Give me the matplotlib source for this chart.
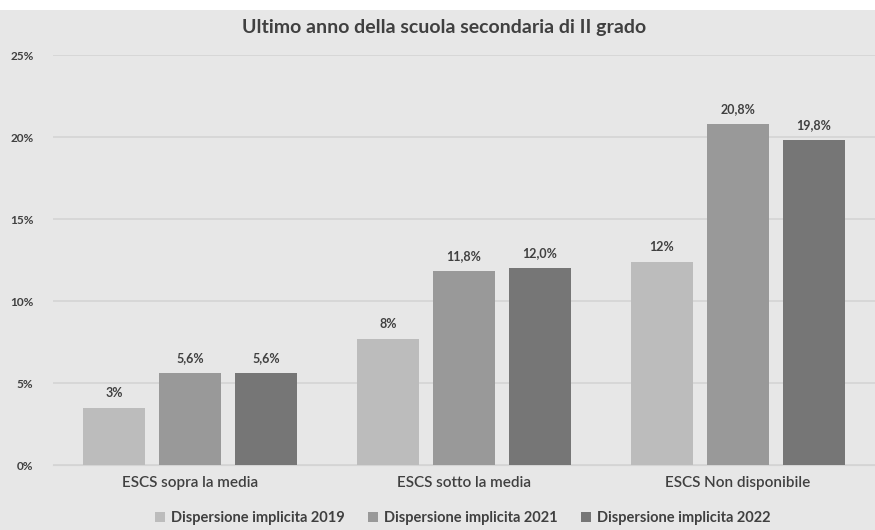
import numpy as np
import matplotlib.pyplot as plt

categories = ["ESCS sopra la media", "ESCS sotto la media", "ESCS Non disponibile"]
series_names = ["Dispersione implicita 2019", "Dispersione implicita 2021", "Dispersione implicita 2022"]
v2019 = [3.5, 7.7, 12.4]
v2021 = [5.6, 11.8, 20.8]
v2022 = [5.6, 12.0, 19.8]
labels2019 = ["3%", "8%", "12%"]
labels2021 = ["5,6%", "11,8%", "20,8%"]
labels2022 = ["5,6%", "12,0%", "19,8%"]
yticks = [0, 5, 10, 15, 20, 25]

colors = ["#bcbcbc", "#999999", "#767676"]
text_col = "#404040"
bg = "#e7e7e7"

plt.rcParams['font.family'] = ['Lato', 'DejaVu Sans']

fig = plt.figure(figsize=(8.75, 5.3), dpi=100)
fig.patch.set_facecolor("white")
# grey chart area below thin white strip
fig.add_artist(plt.Rectangle((0, 0), 1, 1 - 10 / 530, transform=fig.transFigure,
                             facecolor=bg, edgecolor="none", zorder=-10))

ax = fig.add_axes([53 / 875, 65 / 530, 822 / 875, 410 / 530])
ax.set_facecolor(bg)

x = np.arange(len(categories))
w = 62 / 274
step = 76 / 274
all_vals = [v2019, v2021, v2022]
all_labels = [labels2019, labels2021, labels2022]
for i in range(3):
    pos = x + (i - 1) * step
    bars = ax.bar(pos, all_vals[i], width=w, color=colors[i], label=series_names[i], zorder=3)
    for b, lab in zip(bars, all_labels[i]):
        ax.text(b.get_x() + b.get_width() / 2, b.get_height() + 0.55, lab,
                ha="center", va="bottom", fontsize=9, fontweight="bold", color=text_col)

ax.set_xlim(-0.5, 2.5)
ax.set_ylim(0, 25)
ax.set_yticks(yticks)
ax.set_yticklabels([f"{t}%" for t in yticks])
ax.set_xticks(x)
ax.set_xticklabels(categories)
ax.grid(axis="y", color="#d4d4d4", linewidth=1.2, zorder=0)
for s in ax.spines.values():
    s.set_visible(False)
ax.spines["bottom"].set_visible(True)
ax.spines["bottom"].set_color("#d4d4d4")
ax.tick_params(axis="both", length=0, colors=text_col)
ax.tick_params(axis="y", labelsize=8.5, pad=14)
ax.tick_params(axis="x", labelsize=11, pad=8)
for t in ax.get_yticklabels():
    t.set_fontweight("bold")
for t in ax.get_xticklabels():
    t.set_fontweight("semibold")

fig.text(0.508, 1 - 28 / 530, "Ultimo anno della scuola secondaria di II grado",
         ha="center", va="center", fontsize=14, fontweight="bold", color=text_col)

leg = fig.legend(loc="center", bbox_to_anchor=(0.529, 1 - 518 / 530), ncol=3, frameon=False,
                 fontsize=10.5, handlelength=0.7, handleheight=0.7, columnspacing=1.6,
                 handletextpad=0.4)
for t in leg.get_texts():
    t.set_color(text_col)
    t.set_fontweight("bold")

fig.savefig("out.png", dpi=100, facecolor=fig.get_facecolor())
